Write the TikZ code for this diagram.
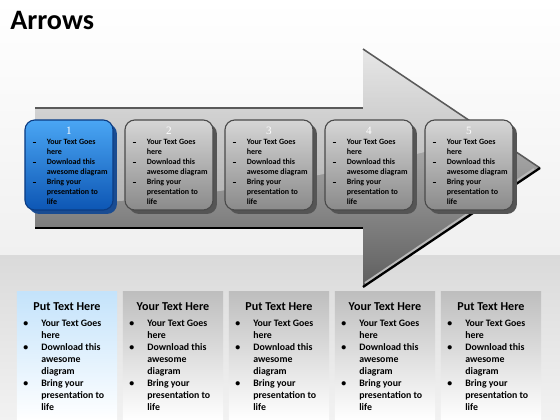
\documentclass[tikz,border=0pt]{standalone}
\usepackage{fontspec}
\setmainfont{Carlito}
\newfontfamily\numfont{Liberation Serif}
\usetikzlibrary{positioning,shadows}

\definecolor{shafttop}{HTML}{DADADA}
\definecolor{shaftmid}{HTML}{ACACAC}
\definecolor{shaftlow}{HTML}{5E5E5E}
\definecolor{edgegray}{HTML}{5A5A5A}
\definecolor{bluetop}{HTML}{4AA6F4}
\definecolor{bluelow}{HTML}{0D56B4}
\definecolor{blueline}{HTML}{0C3C82}
\definecolor{blueside}{HTML}{1A4C92}
\definecolor{facetop}{HTML}{D6D6D6}
\definecolor{facelow}{HTML}{8A8A8A}
\definecolor{faceline}{HTML}{4A4A4A}
\definecolor{faceside}{HTML}{555555}
\definecolor{paneltint}{HTML}{C4E3FB}
\definecolor{panelgray}{HTML}{BEBEBE}
\definecolor{bandtop}{HTML}{DADADA}
\definecolor{bandlow}{HTML}{F2F2F2}
\definecolor{bgfade}{HTML}{F0F0F0}

\newcommand{\boxdash}{\makebox[10pt][l]{\rule[1.5pt]{2pt}{0.8pt}}}
\newcommand{\boxlist}{%
\begin{tabular}[t]{@{}l@{}l@{}}
\boxdash & Your Text Goes\\
 & here\\
\boxdash & Download this\\
 & awesome diagram\\
\boxdash & Bring your\\
 & presentation to\\
 & life
\end{tabular}}
\newcommand{\panelbullet}{\makebox[12.8pt][l]{\textbullet}}
\newcommand{\panellist}{%
\begin{tabular}[t]{@{}l@{}l@{}}
\panelbullet & Your Text Goes\\
 & here\\
\panelbullet & Download this\\
 & awesome\\
 & diagram\\
\panelbullet & Bring your\\
 & presentation to\\
 & life
\end{tabular}}

\begin{document}
\begin{tikzpicture}[x=0.025cm,y=-0.025cm,line join=round,
  facebase/.style={line width=0.8pt,rounded corners=7pt,minimum width=2.2cm,minimum height=2.25cm,inner sep=0pt},
  faceblue/.style={facebase,draw=blueline,top color=bluetop,bottom color=bluelow,
    drop shadow={shadow xshift=2.8pt,shadow yshift=-2.8pt,opacity=1,fill=blueside}},
  facegray/.style={facebase,draw=faceline,top color=facetop,bottom color=facelow,
    drop shadow={shadow xshift=2.8pt,shadow yshift=-2.8pt,opacity=1,fill=faceside}},
  numlabel/.style={font=\numfont\fontsize{8}{9.6}\selectfont,text=white,inner sep=0pt},
  boxtext/.style={font=\bfseries\fontsize{5.7}{7.11}\selectfont,inner sep=0pt},
  panelbox/.style={minimum width=2.5cm,minimum height=3.2cm,inner sep=0pt,outer sep=0pt},
  panelhead/.style={font=\bfseries\fontsize{8.6}{10.3}\selectfont,inner sep=0pt},
  paneltext/.style={font=\bfseries\fontsize{7}{8.53}\selectfont,inner sep=0pt}]
\useasboundingbox (0,0) rectangle (560,420);
% backdrop and lower band
\fill[top color=white,bottom color=bgfade] (0,0) rectangle (560,255);
\fill[top color=bandtop,bottom color=bandlow] (0,255) rectangle (560,420);
% the big arrow
\fill[top color=shafttop,middle color=shaftmid,bottom color=shaftlow]
  (35,108) -- (363,108) -- (363,49) -- (540,168) -- (363,287) -- (363,228) -- (35,228) -- cycle;
\begin{scope}
\clip (35,108) -- (363,108) -- (363,49) -- (540,168) -- (363,287) -- (363,228) -- (35,228) -- cycle;
\fill[white,opacity=0.35] (0,0) -- (560,0) -- (560,120) .. controls (420,150) and (260,205) .. (0,205) -- cycle;
\end{scope}
\draw[edgegray,line width=0.8pt] (35,108) -- (363,108);
\draw[edgegray,line width=1.1pt] (363,49) -- (540,168);
\draw[gray!55,line width=1.4pt] (534,169) -- (365,283);
\draw[black,line width=1.6pt] (540,168) -- (363,287);
\draw[black,line width=1.3pt] (35,228) -- (363,228);
% numbered boxes on the shaft
\node[faceblue] (box1) at (69,165) {};
\node[facegray] (box2) at (169,165) {};
\node[facegray] (box3) at (269,165) {};
\node[facegray] (box4) at (369,165) {};
\node[facegray] (box5) at (469,165) {};
\node[numlabel,below=5pt of box1.north] (num1) {1};
\node[numlabel,below=5pt of box2.north] (num2) {2};
\node[numlabel,below=5pt of box3.north] (num3) {3};
\node[numlabel,below=5pt of box4.north] (num4) {4};
\node[numlabel,below=5pt of box5.north] (num5) {5};
\node[boxtext,below right=13pt and 5.7pt of box1.north west] (list1) {\boxlist};
\node[boxtext,below right=13pt and 5.7pt of box2.north west] (list2) {\boxlist};
\node[boxtext,below right=13pt and 5.7pt of box3.north west] (list3) {\boxlist};
\node[boxtext,below right=13pt and 5.7pt of box4.north west] (list4) {\boxlist};
\node[boxtext,below right=13pt and 5.7pt of box5.north west] (list5) {\boxlist};
% text panels
\node[panelbox,top color=paneltint,bottom color=white] (panel1) at (67,356) {};
\node[panelbox,top color=panelgray,bottom color=white] (panel2) at (173,356) {};
\node[panelbox,top color=panelgray,bottom color=white] (panel3) at (279,356) {};
\node[panelbox,top color=panelgray,bottom color=white] (panel4) at (385,356) {};
\node[panelbox,top color=panelgray,bottom color=white] (panel5) at (491,356) {};
\node[panelhead,below=7.5pt of panel1.north] (head1) {Put Text Here};
\node[panelhead,below=7.5pt of panel2.north] (head2) {Your Text Here};
\node[panelhead,below=7.5pt of panel3.north] (head3) {Put Text Here};
\node[panelhead,below=7.5pt of panel4.north] (head4) {Your Text Here};
\node[panelhead,below=7.5pt of panel5.north] (head5) {Put Text Here};
\node[paneltext,below right=18.2pt and 4.3pt of panel1.north west] (text1) {\panellist};
\node[paneltext,below right=18.2pt and 4.3pt of panel2.north west] (text2) {\panellist};
\node[paneltext,below right=18.2pt and 4.3pt of panel3.north west] (text3) {\panellist};
\node[paneltext,below right=18.2pt and 4.3pt of panel4.north west] (text4) {\panellist};
\node[paneltext,below right=18.2pt and 4.3pt of panel5.north west] (text5) {\panellist};
% title
\node[anchor=base west,inner sep=0pt,font=\bfseries\fontsize{20}{24}\selectfont] (title) at (10,30) {Arrows};
\end{tikzpicture}
\end{document}
